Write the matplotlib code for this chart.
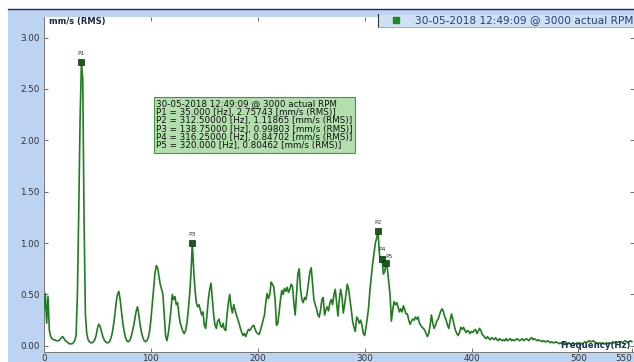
import numpy as np
import matplotlib
matplotlib.use('Agg')
import matplotlib.pyplot as plt
from matplotlib.patches import Rectangle

# --- Spectrum (1.25 Hz bins, 0 .. 550 Hz), mm/s RMS ---
amplitude = [
    0.35, 0.51, 0.22, 0.48, 0.15, 0.09, 0.07, 0.06,
    0.06, 0.05, 0.05, 0.05, 0.06, 0.08, 0.09, 0.07,
    0.05, 0.04, 0.03, 0.02, 0.02, 0.02, 0.03, 0.05,
    0.10, 0.50, 1.30, 2.20, 2.75743, 2.60, 1.20, 0.30,
    0.12, 0.06, 0.04, 0.03, 0.03, 0.04, 0.06, 0.10,
    0.17, 0.21, 0.19, 0.14, 0.09, 0.06, 0.04, 0.03,
    0.03, 0.04, 0.07, 0.12, 0.20, 0.30, 0.42, 0.50,
    0.53, 0.45, 0.33, 0.22, 0.14, 0.08, 0.05, 0.04,
    0.05, 0.08, 0.13, 0.19, 0.26, 0.34, 0.38, 0.30,
    0.20, 0.13, 0.08, 0.05, 0.04, 0.05, 0.08, 0.14,
    0.25, 0.40, 0.56, 0.70, 0.78, 0.76, 0.68, 0.60,
    0.55, 0.50, 0.30, 0.10, 0.05, 0.12, 0.22, 0.35,
    0.50, 0.45, 0.48, 0.40, 0.42, 0.30, 0.22, 0.18,
    0.14, 0.12, 0.15, 0.22, 0.35, 0.50, 0.70, 0.99803,
    0.75, 0.55, 0.42, 0.38, 0.40, 0.35, 0.30, 0.33,
    0.20, 0.17, 0.30, 0.45, 0.55, 0.61, 0.45, 0.30,
    0.20, 0.17, 0.24, 0.26, 0.20, 0.18, 0.22, 0.16,
    0.15, 0.30, 0.42, 0.50, 0.38, 0.32, 0.40, 0.35,
    0.30, 0.26, 0.22, 0.17, 0.13, 0.10, 0.12, 0.09,
    0.13, 0.16, 0.15, 0.17, 0.19, 0.20, 0.16, 0.13,
    0.12, 0.11, 0.15, 0.20, 0.25, 0.30, 0.42, 0.51,
    0.46, 0.50, 0.62, 0.60, 0.57, 0.45, 0.20, 0.22,
    0.33, 0.45, 0.54, 0.50, 0.56, 0.53, 0.57, 0.52,
    0.55, 0.60, 0.58, 0.42, 0.30, 0.50, 0.70, 0.75,
    0.55, 0.45, 0.42, 0.47, 0.45, 0.52, 0.62, 0.72,
    0.76, 0.60, 0.45, 0.40, 0.36, 0.30, 0.28, 0.35,
    0.45, 0.47, 0.30, 0.35, 0.38, 0.34, 0.42, 0.45,
    0.40, 0.50, 0.55, 0.42, 0.29, 0.45, 0.55, 0.48,
    0.32, 0.40, 0.50, 0.60, 0.55, 0.45, 0.35, 0.24,
    0.18, 0.14, 0.28, 0.26, 0.22, 0.25, 0.20, 0.12,
    0.10, 0.18, 0.27, 0.38, 0.55, 0.68, 0.80, 0.90,
    1.00, 1.05, 1.11865, 0.90, 0.82, 0.84702, 0.70, 0.72,
    0.80462, 0.75, 0.62, 0.50, 0.24, 0.35, 0.43, 0.40,
    0.42, 0.38, 0.33, 0.36, 0.33, 0.39, 0.35, 0.31,
    0.31, 0.25, 0.21, 0.24, 0.26, 0.25, 0.28, 0.26,
    0.28, 0.22, 0.20, 0.18, 0.17, 0.15, 0.12, 0.09,
    0.12, 0.20, 0.30, 0.22, 0.17, 0.20, 0.24, 0.26,
    0.30, 0.34, 0.36, 0.33, 0.28, 0.25, 0.20, 0.17,
    0.25, 0.31, 0.26, 0.20, 0.15, 0.12, 0.10, 0.13,
    0.18, 0.16, 0.18, 0.15, 0.13, 0.15, 0.14, 0.12,
    0.14, 0.13, 0.15, 0.16, 0.12, 0.14, 0.17, 0.15,
    0.11, 0.10, 0.08, 0.07, 0.09, 0.07, 0.06, 0.08,
    0.07, 0.06, 0.08, 0.06, 0.05, 0.07, 0.06, 0.05,
    0.06, 0.05, 0.07, 0.05, 0.06, 0.07, 0.05, 0.06,
    0.05, 0.06, 0.07, 0.06, 0.05, 0.06, 0.07, 0.05,
    0.06, 0.07, 0.06, 0.05, 0.07, 0.08, 0.06, 0.07,
    0.06, 0.05, 0.06, 0.05, 0.05, 0.04, 0.05, 0.04,
    0.04, 0.05, 0.04, 0.03, 0.04, 0.03, 0.03, 0.04,
    0.03, 0.03, 0.02, 0.03, 0.02, 0.03, 0.02, 0.03,
    0.02, 0.03, 0.02, 0.02, 0.03, 0.02, 0.02, 0.03,
    0.02, 0.03, 0.02, 0.02, 0.03, 0.04, 0.03, 0.04,
    0.05, 0.04, 0.04, 0.05, 0.04, 0.03, 0.03, 0.02,
    0.03, 0.02, 0.03, 0.02, 0.02, 0.03, 0.02, 0.03,
    0.03, 0.02, 0.03, 0.03, 0.04, 0.03, 0.04, 0.03,
    0.04, 0.03, 0.04, 0.05, 0.04, 0.03, 0.04, 0.05,
    0.04,
]
BIN_HZ = 1.25
frequency = np.arange(len(amplitude)) * BIN_HZ

# --- Picked peaks ---
peak_names = ["P1", "P2", "P3", "P4", "P5"]
peak_freqs = [35.000, 312.50000, 138.75000, 316.25000, 320.000]
peak_amps = [2.75743, 1.11865, 0.99803, 0.84702, 0.80462]
peak_freq_txt = ["35.000", "312.50000", "138.75000", "316.25000", "320.000"]

x_ticks = [0, 100, 200, 300, 400, 500, 550]
y_ticks = [0.0, 0.5, 1.0, 1.5, 2.0, 2.5, 3.0]
run_label = "30-05-2018 12:49:09 @ 3000 actual RPM"

PANEL_BLUE = "#bdd3f2"
LINE_GREEN = "#1f7d1f"
MARK_GREEN = "#1b5a1b"
NAVY = "#1c2f5a"

W, H = 634, 362
fig = plt.figure(figsize=(W / 100, H / 100), dpi=100, facecolor='white')

# blue panel behind the plot, with a dark top rule
fig.patches.append(Rectangle((8 / W, 0), 1 - 8 / W, (H - 9) / H,
                             transform=fig.transFigure, facecolor=PANEL_BLUE,
                             edgecolor='none', zorder=-5))
fig.add_artist(plt.Line2D([8 / W, 1], [(H - 9) / H, (H - 9) / H],
                          transform=fig.transFigure, color=NAVY, lw=1.0,
                          zorder=-4))

ax = fig.add_axes([44 / W, 10 / H, (W - 44) / W, (352 - 17) / H])
ax.set_zorder(1)
ax.set_facecolor('white')
ax.plot(frequency, amplitude, color=LINE_GREEN, lw=1.2, zorder=3)

ax.scatter(peak_freqs, peak_amps, marker='s', s=22, color=MARK_GREEN,
           edgecolors='#0d2e0d', linewidths=0.5, zorder=4)
for name, f, a in zip(peak_names, peak_freqs, peak_amps):
    dx, dy = 0, 0.06
    if name == "P4":
        dx, dy = 0, 0.07
    if name == "P5":
        dx, dy = 2.5, 0.04
    ax.text(f + dx, a + dy, name, fontsize=4.2, color='#2a3a2a',
            ha='center', va='bottom', zorder=5)

ax.set_xlim(0, 552)
ax.set_ylim(-0.06, 3.2)
ax.set_xticks(x_ticks)
ax.set_xticklabels([str(t) for t in x_ticks])
ax.get_xticklabels()[-1].set_horizontalalignment('right')
ax.set_yticks(y_ticks)
ax.set_yticklabels([f"{t:.2f}" for t in y_ticks])
ax.tick_params(direction='in', length=3, width=0.6, colors='#555555',
               labelsize=6.3, labelcolor='#333333', top=True, right=True, pad=3)
ax.tick_params(axis='x', pad=1.5)
for side in ['top', 'right']:
    ax.spines[side].set_visible(False)
ax.spines['left'].set_color('#777777')
ax.spines['bottom'].set_color('#777777')
ax.spines['left'].set_linewidth(0.7)
ax.spines['bottom'].set_linewidth(0.7)

# axis captions drawn inside the plot area
ax.text(0.008, 1.0, "mm/s (RMS)", transform=ax.transAxes, fontsize=6,
        fontweight='bold', color='#222244', ha='left', va='top')
ax.text(631 / W, (H - 346) / H, "Frequency(Hz)", fontsize=6.2,
        fontweight='bold', color=NAVY, ha='right', va='center',
        transform=fig.transFigure, zorder=6)

# peak readout box
lines = [run_label]
for name, ft, a in zip(peak_names, peak_freq_txt, peak_amps):
    lines.append(f"{name} = {ft} [Hz], {a:.5f} [mm/s (RMS)]")
ax.text(105, 2.40, "\n".join(lines), fontsize=6.3, color='#111111',
        ha='left', va='top', linespacing=0.92, zorder=6,
        bbox=dict(boxstyle='square,pad=0.25', facecolor='#b3dfae',
                  edgecolor='#3f9a3f', linewidth=0.8))

# series legend strip at top right
fig.patches.append(Rectangle((378 / W, (H - 27) / H), (W - 378) / W, 12 / H,
                             transform=fig.transFigure, facecolor='#cfe0f5',
                             edgecolor='none', zorder=5))
fig.add_artist(plt.Line2D([378 / W, 378 / W], [(H - 27) / H, (H - 14) / H],
                          transform=fig.transFigure, color='#333333', lw=0.8,
                          zorder=6))
fig.add_artist(plt.Line2D([378 / W, 1], [(H - 27) / H, (H - 27) / H],
                          transform=fig.transFigure, color='#8aa0b8', lw=0.6,
                          zorder=6))
fig.add_artist(plt.Line2D([396 / W], [(H - 20) / H], transform=fig.transFigure,
                          marker='s', markersize=4, color='#1e8a1e', lw=0,
                          zorder=6))
fig.text(415 / W, (H - 20) / H, run_label, fontsize=7.6, color='#2a3f6e',
         ha='left', va='center', zorder=6)

plt.savefig("out.png", dpi=100, facecolor='white')
plt.close()
